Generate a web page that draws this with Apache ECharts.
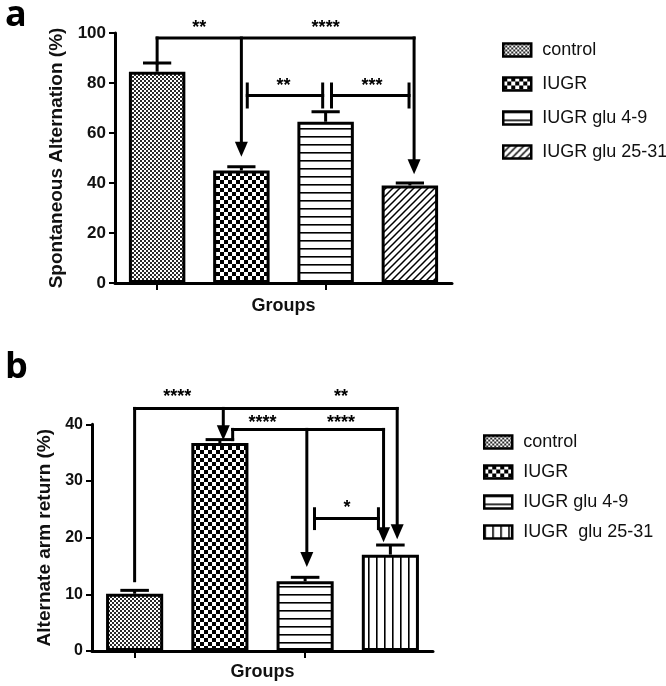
<!DOCTYPE html>
<html><head><meta charset="utf-8">
<script src="https://cdn.jsdelivr.net/npm/echarts@6/dist/echarts.min.js"></script>
<style>
html,body{margin:0;padding:0;background:#fff;width:666px;height:686px;overflow:hidden;}
#a{position:absolute;left:0;top:0;width:666px;height:330px;}
#b{position:absolute;left:0;top:330px;width:666px;height:356px;}
</style>
</head><body><div id="a"></div><div id="b"></div>
<script>
// ---------- data ----------
const categoriesA = ['control', 'IUGR', 'IUGR glu 4-9', 'IUGR glu 25-31'];
const valuesA = [84.5, 45, 64.5, 39];
const errorsA = [3.5, 1.5, 4, 1];
const yTicksA = [0, 20, 40, 60, 80, 100];

const categoriesB = ['control', 'IUGR', 'IUGR glu 4-9', 'IUGR  glu 25-31'];
const valuesB = [10.1, 36.7, 12.3, 17.0];
const errorsB = [0.6, 0.6, 0.7, 1.7];
const yTicksB = [0, 10, 20, 30, 40];

// significance lines: [x1(cat), y1, x2(cat), y2, arrowAtEnd]
const sigLinesA = [
  [0, 98, 3.05, 98, 0],
  [0, 98, 0, 88, 0],
  [1, 98, 1, 50.5, 1],
  [3.05, 98, 3.05, 43.5, 1],
  [1.07, 75, 1.965, 75, 0], [1.07, 70.4, 1.07, 79.6, 0], [1.965, 70.4, 1.965, 79.6, 0],
  [2.07, 75, 2.99, 75, 0], [2.07, 70.4, 2.07, 79.6, 0], [2.99, 70.4, 2.99, 79.6, 0]
];
const sigLabelsA = [['**', 0.5, 103.6], ['****', 2.0, 103.6], ['**', 1.5, 80.4], ['***', 2.55, 80.4]];

const sigLinesB = [
  [0, 42.8, 3.08, 42.8, 0],
  [0, 42.8, 0, 12.4, 0],
  [1.04, 42.8, 1.04, 37.2, 1],
  [3.08, 42.8, 3.08, 19.7, 1],
  [1.15, 39.1, 2.92, 39.1, 0],
  [1.15, 39.1, 1.15, 37.3, 0],
  [2.02, 39.1, 2.02, 14.8, 1],
  [2.92, 39.1, 2.92, 19.2, 1],
  [2.11, 23.4, 2.86, 23.4, 0], [2.11, 21.6, 2.11, 25.1, 0], [2.86, 21.6, 2.86, 25.1, 0]
];
const sigLabelsB = [['****', 0.5, 45.6], ['**', 2.42, 45.6], ['****', 1.5, 41.0], ['****', 2.42, 41.0], ['*', 2.49, 26.0]];

// ---------- patterns ----------
function pat(w, h, draw) {
  const c = document.createElement('canvas');
  c.width = w; c.height = h;
  const g = c.getContext('2d');
  g.fillStyle = '#fff'; g.fillRect(0, 0, w, h);
  draw(g);
  return { image: c, repeat: 'repeat' };
}
const patControl = pat(4, 4, g => { g.fillStyle = '#2a2a2a'; g.fillRect(0, 0, 2, 2); g.fillRect(2, 2, 2, 2); });
const patIUGR = pat(8, 8, g => { g.fillStyle = '#000'; g.fillRect(0, 0, 4, 4); g.fillRect(4, 4, 4, 4); });
const patH = pat(8, 8, g => { g.fillStyle = '#000'; g.fillRect(0, 0, 8, 1); g.fillStyle = '#666'; g.fillRect(0, 1, 8, 1); });
const patV = pat(8, 8, g => { g.fillStyle = '#000'; g.fillRect(0, 0, 1, 8); g.fillStyle = '#666'; g.fillRect(1, 0, 1, 8); });
const patDiag = pat(7, 7, g => {
  g.strokeStyle = '#000'; g.lineWidth = 1.5; g.beginPath();
  g.moveTo(-1, 8); g.lineTo(8, -1);
  g.moveTo(-4, 4); g.lineTo(4, -4);
  g.moveTo(3, 11); g.lineTo(11, 3);
  g.stroke();
});

const FONT = '"Liberation Sans", Arial, sans-serif';

function P(api, x, y) {
  const i = Math.floor(x), f = x - i;
  const a = api.coord([i, y]);
  if (f === 0) return a;
  const b = api.coord([i + 1, y]);
  return [a[0] + (b[0] - a[0]) * f, a[1]];
}

function annRender(lines, labels) {
  return function (params, api) {
    const ch = [];
    const ls = { stroke: '#000', lineWidth: 3, lineCap: 'square' };
    lines.forEach(l => {
      const p1 = P(api, l[0], l[1]), p2 = P(api, l[2], l[3]);
      if (l[4]) {
        const by = p2[1] - 15;
        ch.push({ type: 'line', shape: { x1: p1[0], y1: p1[1], x2: p2[0], y2: by }, style: ls });
        ch.push({ type: 'polygon', shape: { points: [[p2[0] - 6.5, by], [p2[0] + 6.5, by], [p2[0], p2[1]]] }, style: { fill: '#000' } });
      } else {
        ch.push({ type: 'line', shape: { x1: p1[0], y1: p1[1], x2: p2[0], y2: p2[1] }, style: ls });
      }
    });
    labels.forEach(t => {
      const p = P(api, t[1], t[2]);
      ch.push({ type: 'text', style: { x: p[0], y: p[1] + 4, text: t[0], fill: '#000', font: 'bold 18px ' + FONT, align: 'center', verticalAlign: 'middle' } });
    });
    return { type: 'group', children: ch };
  };
}

function errRender(params, api) {
  const x = api.value(0), v = api.value(1), e = api.value(2);
  const p0 = api.coord([x, v]), p1 = api.coord([x, v + e]);
  const bw = api.size([1, 0])[0] * 0.67;
  const ls = { stroke: '#000', lineWidth: 3 };
  return { type: 'group', children: [
    { type: 'line', shape: { x1: p0[0], y1: p0[1], x2: p1[0], y2: p1[1] }, style: ls },
    { type: 'line', shape: { x1: p1[0] - bw / 4, y1: p1[1], x2: p1[0] + bw / 4, y2: p1[1] }, style: ls }
  ] };
}

function build(o) {
  const series = o.cats.map((name, i) => ({
    type: 'bar', name: name,
    data: o.cats.map((c, j) => j === i ? o.vals[i] : '-'),
    barWidth: '67%', barGap: '-100%',
    itemStyle: { color: o.pats[i], borderColor: '#000', borderWidth: 3 },
    emphasis: { disabled: true }
  }));
  series.push({ type: 'custom', renderItem: errRender, data: o.vals.map((v, i) => [i, v, o.errs[i]]), z: 5, silent: true });
  series.push({ type: 'custom', renderItem: annRender(o.lines, o.labels), data: [[0, 0]], z: 6, silent: true, clip: false });
  return {
    animation: false,
    title: { text: o.letter, left: 0, top: o.letterTop, textStyle: { fontSize: 36, fontWeight: 'bold', fontFamily: '"Open Sans", sans-serif', color: '#000' } },
    grid: o.grid,
    legend: {
      orient: 'vertical', left: o.legLeft, top: o.legTop, itemWidth: 28, itemHeight: 13, itemGap: o.legGap,
      icon: 'rect', padding: 0, selectedMode: false,
      itemStyle: { borderColor: '#000', borderWidth: 2.5 },
      textStyle: { fontSize: 18, fontFamily: FONT, color: '#111', lineHeight: 20, padding: [0, 0, 0, 6] },
      data: o.cats
    },
    xAxis: {
      type: 'category', data: o.cats, name: 'Groups', nameLocation: 'middle', nameGap: o.xNameGap,
      nameTextStyle: { fontSize: 18, fontWeight: 'bold', fontFamily: FONT, color: '#111' },
      axisLine: { lineStyle: { color: '#000', width: 3 } },
      axisTick: { show: true, alignWithLabel: true, length: 7, lineStyle: { width: 2, color: '#000' } },
      axisLabel: { show: false }
    },
    yAxis: {
      type: 'value', min: o.ticks[0], max: o.ticks[o.ticks.length - 1], interval: o.ticks[1] - o.ticks[0],
      name: o.yName, nameLocation: 'middle', nameGap: o.yNameGap, nameRotate: 90,
      nameTextStyle: { fontSize: 19, fontWeight: 'bold', fontFamily: FONT, color: '#111' },
      axisLine: { show: true, lineStyle: { color: '#000', width: 3 } },
      axisTick: { show: true, length: 6, lineStyle: { width: 2, color: '#000' } },
      axisLabel: { fontSize: o.tickFont, fontWeight: 'bold', fontFamily: FONT, color: '#111', margin: 9 },
      splitLine: { show: false }
    },
    series: series
  };
}

const chartA = echarts.init(document.getElementById('a'));
chartA.setOption(build({
  letter: 'a', letterTop: -7, cats: categoriesA, vals: valuesA, errs: errorsA, ticks: yTicksA,
  pats: [patControl, patIUGR, patH, patDiag], lines: sigLinesA, labels: sigLabelsA,
  grid: { left: 115, top: 33, width: 337, height: 250 },
  legLeft: 502, legTop: 40, legGap: 14, xNameGap: 14, yName: 'Spontaneous Alternation (%)', yNameGap: 41, tickFont: 17
}));

const chartB = echarts.init(document.getElementById('b'));
chartB.setOption(build({
  letter: 'b', letterTop: 15, cats: categoriesB, vals: valuesB, errs: errorsB, ticks: yTicksB,
  pats: [patControl, patIUGR, patH, patV], lines: sigLinesB, labels: sigLabelsB,
  grid: { left: 92, top: 94.3, width: 341, height: 228.4 },
  legLeft: 483, legTop: 102, legGap: 10, xNameGap: 12, yName: 'Alternate arm return (%)', yNameGap: 31, tickFont: 16
}));
</script>
</body></html>
